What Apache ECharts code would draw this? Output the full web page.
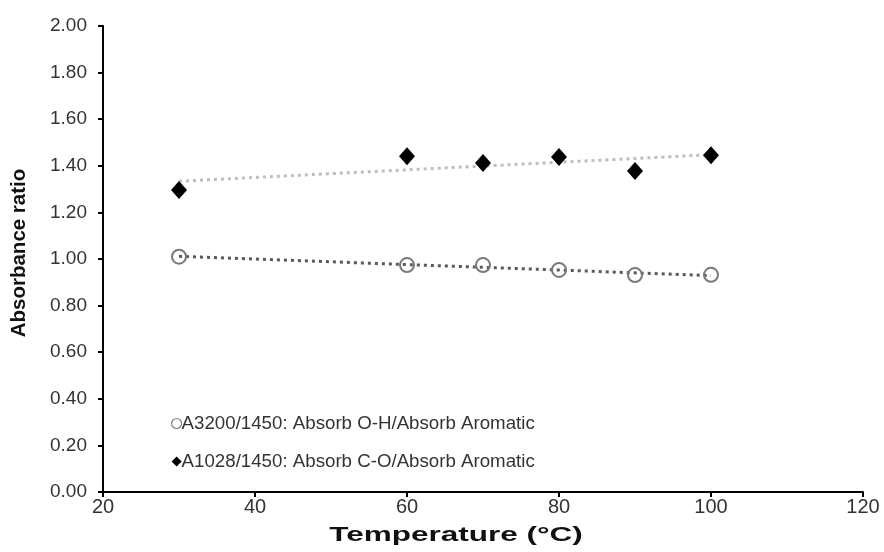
<!DOCTYPE html>
<html>
<head>
<meta charset="utf-8">
<script src="https://cdn.jsdelivr.net/npm/echarts@6/dist/echarts.min.js"></script>
<style>
  html, body { margin: 0; padding: 0; background: #fff; }
  #chart { width: 884px; height: 552px; }
</style>
</head>
<body>
<div id="chart"></div>
<script>
// Temperature (°C) of each measurement
const temperatures = [30, 60, 70, 80, 90, 100];
// A3200/1450 ratio (O-H vs aromatic)
const ohRatio = [1.010, 0.974, 0.974, 0.953, 0.931, 0.932];
// A1028/1450 ratio (C-O vs aromatic)
const coRatio = [1.296, 1.441, 1.412, 1.438, 1.378, 1.445];

const ohName = 'A3200/1450: Absorb O-H/Absorb Aromatic';
const coName = 'A1028/1450: Absorb C-O/Absorb Aromatic';

// Least-squares linear trend across the measured temperature span
function linearTrend(xs, ys) {
  const n = xs.length;
  const mx = xs.reduce((a, b) => a + b, 0) / n;
  const my = ys.reduce((a, b) => a + b, 0) / n;
  let sxy = 0, sxx = 0;
  for (let i = 0; i < n; i++) {
    sxy += (xs[i] - mx) * (ys[i] - my);
    sxx += (xs[i] - mx) * (xs[i] - mx);
  }
  const slope = sxy / sxx;
  const x0 = Math.min(...xs), x1 = Math.max(...xs);
  return [[x0, my + slope * (x0 - mx)], [x1, my + slope * (x1 - mx)]];
}

const pairs = (xs, ys) => xs.map((x, i) => [x, ys[i]]);

const chart = echarts.init(document.getElementById('chart'), null, { renderer: 'canvas' });
const font = 'Liberation Sans, Arial, sans-serif';

chart.setOption({
  animation: false,
  backgroundColor: '#ffffff',
  textStyle: { fontFamily: font },
  grid: { left: 103, right: 21, top: 26, bottom: 60, containLabel: false },
  xAxis: {
    type: 'value', min: 20, max: 120, interval: 20,
    axisLine: { lineStyle: { color: '#000', width: 2 } },
    axisTick: { show: true, inside: false, length: 5, lineStyle: { color: '#000', width: 2 } },
    splitLine: { show: false },
    axisLabel: { color: '#333', fontSize: 20, margin: 5, fontFamily: font }
  },
  yAxis: {
    type: 'value', min: 0, max: 2, interval: 0.2,
    axisLine: { show: true, lineStyle: { color: '#000', width: 2 } },
    axisTick: { show: true, inside: false, length: 5, lineStyle: { color: '#000', width: 2 } },
    splitLine: { show: false },
    axisLabel: { color: '#333', fontSize: 19, margin: 16, fontFamily: font,
      formatter: v => v.toFixed(2) }
  },
  legend: {
    orient: 'vertical', left: 166, top: 409,
    itemWidth: 10, itemHeight: 10, itemGap: 19,
    textStyle: { fontSize: 18.7, color: '#333', fontFamily: font, padding: [0, 0, 0, -5] },
    data: [
      { name: ohName, icon: 'circle', itemStyle: { color: '#fff', borderColor: '#7f7f7f', borderWidth: 1.2, opacity: 1 } },
      { name: coName, icon: 'diamond', itemStyle: { color: '#000', opacity: 1 } }
    ]
  },
  graphic: [
    { type: 'text', x: 456, y: 535, scaleX: 1.5,
      style: { text: 'Temperature (°C)', font: 'bold 21px ' + font, fill: '#111',
        align: 'center', verticalAlign: 'middle' } },
    { type: 'text', x: 9, y: 253, rotation: Math.PI / 2,
      style: { text: 'Absorbance ratio', font: 'bold 20.5px ' + font, fill: '#111',
        align: 'center', verticalAlign: 'top' } }
  ],
  series: [
    {
      name: 'ohTrend', type: 'line', data: linearTrend(temperatures, ohRatio),
      showSymbol: false, silent: true, z: 1,
      lineStyle: { color: '#595959', width: 3, type: [3, 4], cap: 'butt' }
    },
    {
      name: 'coTrend', type: 'line', data: linearTrend(temperatures, coRatio),
      showSymbol: false, silent: true, z: 1,
      lineStyle: { color: '#bdbdbd', width: 3, type: [3, 4], cap: 'butt' }
    },
    {
      name: ohName, type: 'scatter', data: pairs(temperatures, ohRatio),
      symbol: 'circle', symbolSize: 14, z: 3,
      itemStyle: { color: 'rgba(255,255,255,0)', borderColor: '#7a7a7a', borderWidth: 2, opacity: 1 }
    },
    {
      name: coName, type: 'scatter', data: pairs(temperatures, coRatio),
      symbol: 'diamond', symbolSize: [16, 18], z: 3,
      itemStyle: { color: '#000', opacity: 1 }
    }
  ]
});
</script>
</body>
</html>
